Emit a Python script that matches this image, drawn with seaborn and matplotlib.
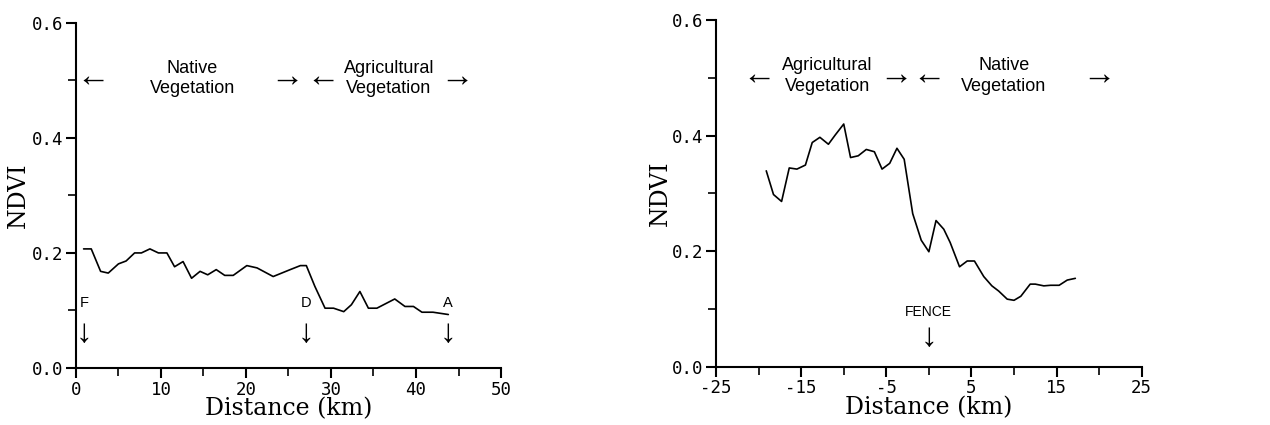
import matplotlib
matplotlib.use("Agg")
import matplotlib.pyplot as plt
import seaborn as sns
import pandas as pd

# Transect A-D-F (left panel)
left_km = [0.9, 1.8, 2.9, 3.8, 5.0, 5.9, 6.9, 7.7, 8.7, 9.7, 10.7, 11.6, 12.6,
           13.6, 14.6, 15.5, 16.5, 17.5, 18.5, 20.1, 21.3, 23.2, 25.2, 26.4,
           27.1, 28.1, 29.3, 30.3, 31.5, 32.4, 33.4, 34.4, 35.4, 37.5, 38.7,
           39.7, 40.7, 42.0, 43.8]
left_ndvi = [0.207, 0.207, 0.168, 0.165, 0.181, 0.186, 0.200, 0.200, 0.207,
             0.200, 0.200, 0.176, 0.185, 0.156, 0.168, 0.162, 0.171, 0.161,
             0.161, 0.178, 0.174, 0.159, 0.171, 0.178, 0.178, 0.142, 0.104,
             0.104, 0.098, 0.110, 0.133, 0.104, 0.104, 0.120, 0.107, 0.107,
             0.097, 0.097, 0.093]

# Transect across the fence (right panel)
right_km = [-19.1, -18.25, -17.3, -16.4, -15.5, -14.5, -13.7, -12.8, -11.8,
            -11.0, -10.0, -9.2, -8.3, -7.35, -6.4, -5.5, -4.6, -3.75, -2.9,
            -2.4, -1.9, -1.4, -0.9, 0.0, 0.84, 1.75, 2.5, 3.6, 4.5, 5.35, 6.45,
            7.4, 8.2, 9.2, 10.0, 10.8, 11.9, 12.5, 13.5, 14.3, 15.3, 16.25, 17.2]
right_ndvi = [0.339, 0.298, 0.286, 0.344, 0.342, 0.349, 0.388, 0.397, 0.385,
              0.401, 0.420, 0.362, 0.365, 0.376, 0.372, 0.342, 0.352, 0.378,
              0.359, 0.312, 0.265, 0.242, 0.219, 0.199, 0.253, 0.238, 0.215,
              0.173, 0.183, 0.183, 0.156, 0.140, 0.131, 0.117, 0.115, 0.122,
              0.143, 0.143, 0.140, 0.141, 0.141, 0.150, 0.153]

y_ticks = [0.0, 0.2, 0.4, 0.6]
y_labels = ['0.0', '0.2', '0.4', '0.6']
y_minor = [0.1, 0.3, 0.5]
left_xticks = [0, 10, 20, 30, 40, 50]
left_xminor = [5, 15, 25, 35, 45]
right_xticks = [-25, -15, -5, 5, 15, 25]
right_xminor = [-20, -10, 0, 10, 20]

left_df = pd.DataFrame({"Distance": left_km, "NDVI": left_ndvi})
right_df = pd.DataFrame({"Distance": right_km, "NDVI": right_ndvi})

sns.set_style("ticks")
plt.rcParams['font.family'] = ['Liberation Sans', 'DejaVu Sans']
plt.rcParams['text.color'] = 'black'
plt.rcParams['axes.labelcolor'] = 'black'
plt.rcParams['xtick.color'] = 'black'
plt.rcParams['ytick.color'] = 'black'
plt.rcParams['axes.unicode_minus'] = False

fig = plt.figure(figsize=(12.7, 4.25), dpi=100)
ax1 = fig.add_axes([0.0598, 0.134, 0.3347, 0.8126])
ax2 = fig.add_axes([0.5638, 0.137, 0.3352, 0.816])

label_font = dict(family='DejaVu Serif', fontsize=17)
tick_font = 'DejaVu Sans Mono'
note_font = ['Liberation Sans', 'DejaVu Sans']
arrow_font = ['Liberation Sans', 'DejaVu Sans']


def style_axis(ax, xlim, major, minor, ylab_x):
    for side in ['top', 'right']:
        ax.spines[side].set_visible(False)
    for side in ['left', 'bottom']:
        ax.spines[side].set_linewidth(1.5)
        ax.spines[side].set_color('black')
    ax.set_xlim(*xlim)
    ax.set_ylim(0, 0.6)
    ax.set_xticks(major)
    ax.set_xticks(minor, minor=True)
    ax.set_yticks(y_ticks, y_labels)
    ax.set_yticks(y_minor, minor=True)
    ax.tick_params(which='major', length=7, width=1.5, color='black',
                   labelsize=12.5, pad=2)
    ax.tick_params(which='minor', length=6, width=1.2, color='black')
    for lab in ax.get_xticklabels() + ax.get_yticklabels():
        lab.set_family(tick_font)
    ax.set_xlabel('Distance (km)', labelpad=-1, **label_font)
    ax.set_ylabel('NDVI', **label_font)
    ax.yaxis.set_label_coords(ylab_x, 0.5)


def arrow(ax, x, y, ch):
    ax.text(x, y, ch, ha='center', va='center', fontsize=24, family=arrow_font)


# Left panel
sns.lineplot(data=left_df, x='Distance', y='NDVI', ax=ax1, color='black',
             linewidth=1.2, estimator=None, sort=False)
style_axis(ax1, (0, 50), left_xticks, left_xminor, -0.108)

arrow(ax1, 2.0, 0.505, '\u2190')
ax1.text(13.7, 0.503, 'Native\nVegetation', ha='center', va='center',
         fontsize=13, linespacing=1.3, family=note_font)
arrow(ax1, 24.8, 0.505, '\u2192')
arrow(ax1, 29.0, 0.505, '\u2190')
ax1.text(36.8, 0.503, 'Agricultural\nVegetation', ha='center', va='center',
         fontsize=13, linespacing=1.3, family=note_font)
arrow(ax1, 44.8, 0.505, '\u2192')

for xk, lab in [(1.0, 'F'), (27.1, 'D'), (43.8, 'A')]:
    ax1.text(xk, 0.113, lab, ha='center', va='center', fontsize=10.5, family=note_font)
    arrow(ax1, xk, 0.06, '\u2193')

# Right panel
sns.lineplot(data=right_df, x='Distance', y='NDVI', ax=ax2, color='black',
             linewidth=1.2, estimator=None, sort=False)
style_axis(ax2, (-25, 25), right_xticks, right_xminor, -0.104)

arrow(ax2, -20.0, 0.505, '\u2190')
ax2.text(-11.9, 0.503, 'Agricultural\nVegetation', ha='center', va='center',
         fontsize=13, linespacing=1.3, family=note_font)
arrow(ax2, -3.9, 0.505, '\u2192')
arrow(ax2, 0.0, 0.505, '\u2190')
ax2.text(8.8, 0.503, 'Native\nVegetation', ha='center', va='center',
         fontsize=13, linespacing=1.3, family=note_font)
arrow(ax2, 20.0, 0.505, '\u2192')

ax2.text(-0.1, 0.095, 'FENCE', ha='center', va='center', fontsize=10, family=note_font)
arrow(ax2, 0.0, 0.05, '\u2193')

fig.savefig('out.png', dpi=100)
